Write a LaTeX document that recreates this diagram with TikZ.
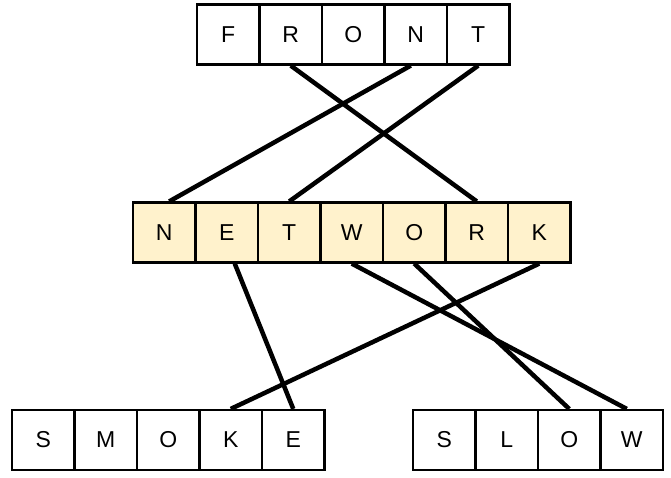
\documentclass[tikz,border=0pt]{standalone}
\usepackage{fontspec}
\setmainfont{Liberation Sans}
\definecolor{netfill}{HTML}{FFF2CC}

\begin{document}
\begin{tikzpicture}[x=1pt,y=-1pt]
    \useasboundingbox (0,0) rectangle (671,477);

    \begin{scope} [every node/.style={rectangle,draw,line width=2.2pt,fill=white,
            minimum width=62.5pt,minimum height=60pt,inner sep=0pt,
            font=\fontsize{23}{27}\selectfont}]
        \foreach \l [count=\i] in {F,R,O,N,T}{
            \node (front\i) at (165.75+62.5*\i,34.5) {\l};
        }
        \foreach \l [count=\i] in {N,E,T,W,O,R,K}{
            \node[fill=netfill] (network\i) at (101.75+62.5*\i,232.5) {\l};
        }
        \foreach \l [count=\i] in {S,M,O,K,E}{
            \node (smoke\i) at (-19.25+62.5*\i,440) {\l};
        }
        \foreach \l [count=\i] in {S,L,O,W}{
            \node (slow\i) at (381.75+62.5*\i,440) {\l};
        }
    \end{scope}

    \begin{scope}[every edge/.style={draw=black,line width=4.5pt}]
        \path (front2.south) edge (network6.north);
        \path ([xshift=-5pt]front4.south) edge ([xshift=5pt]network1.north);
        \path (front5.south) edge (network3.north);
        \path ([xshift=8pt]network2.south) edge (smoke5.north);
        \path (network7.south) edge (smoke4.north);
        \path (network4.south) edge ([xshift=-5pt]slow4.north);
        \path (network5.south) edge (slow3.north);
    \end{scope}
\end{tikzpicture}
\end{document}
